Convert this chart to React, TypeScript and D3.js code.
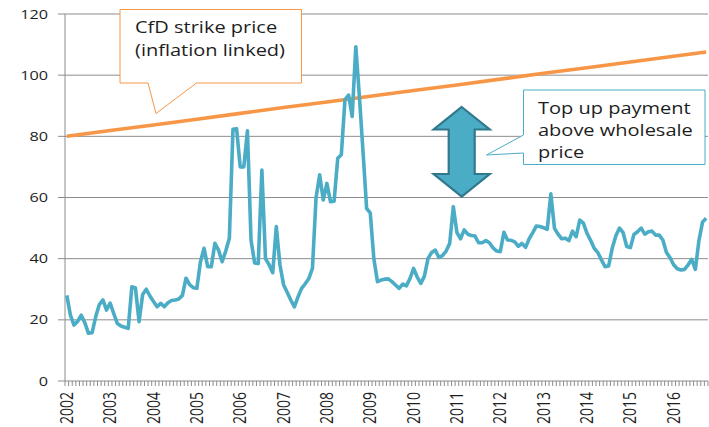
import React from "react";
import * as d3 from "d3";

// Monthly wholesale electricity price, Jan 2002 .. Oct 2016 (£/MWh)
const wholesale: number[] = [
  28.0, 21.5, 18.3, 19.5, 21.5, 19.0, 15.6, 15.8, 21.0, 25.0, 26.5, 23.2,
  25.5, 22.0, 18.8, 18.0, 17.6, 17.2, 30.8, 30.4, 19.4, 28.3, 30.0, 27.8,
  26.0, 24.3, 25.4, 24.3, 25.6, 26.3, 26.5, 26.8, 28.0, 33.6, 31.5, 30.5,
  30.3, 39.0, 43.4, 37.4, 37.4, 45.0, 42.8, 39.0, 42.5, 46.7, 82.3, 82.5,
  70.0, 70.0, 81.8, 46.0, 38.6, 38.4, 69.0, 40.0, 38.0, 35.4, 50.5, 38.0,
  31.5, 29.0, 26.5, 24.2, 27.5, 30.3, 31.8, 33.5, 36.8, 60.0, 67.4, 59.2,
  64.6, 58.6, 58.8, 72.8, 74.0, 91.9, 93.5, 86.5, 109.3, 93.0, 75.0, 56.4,
  55.0, 40.0, 32.5, 33.0, 33.3, 33.4, 32.5, 31.4, 30.3, 31.7, 31.1, 33.5,
  36.8, 34.0, 31.9, 34.3, 40.1, 42.0, 42.8, 40.4, 41.0, 42.5, 45.0, 57.0,
  48.5, 46.5, 49.4, 48.0, 47.6, 47.4, 45.2, 45.2, 45.9, 45.2, 43.5, 42.5,
  42.3, 48.6, 46.1, 46.0, 45.5, 44.0, 45.0, 43.7, 46.5, 48.5, 50.7, 50.5,
  50.1, 49.6, 61.2, 49.9, 48.0, 46.5, 46.7, 45.9, 49.0, 47.2, 52.6, 51.6,
  48.3, 46.0, 43.4, 42.0, 39.6, 37.4, 37.6, 43.5, 47.5, 50.0, 48.5, 44.0,
  43.6, 47.9, 48.8, 50.0, 48.0, 48.8, 49.0, 47.7, 47.7, 46.1, 42.0, 40.3,
  38.0, 36.7, 36.3, 36.5, 38.0, 39.8, 36.5, 46.0, 52.0, 53.2,
];

// CfD strike price (inflation linked): month index and value
const strikeMonths: number[] = [0, 12, 24, 36, 48, 60, 72, 84, 96, 108, 120, 132, 144, 156, 168, 177];
const strikeValues: number[] = [80.0, 81.9, 83.7, 85.6, 87.5, 89.4, 91.2, 93.1, 95.0, 96.8, 98.7, 100.6, 102.4, 104.3, 106.2, 107.6];

const years: string[] = [
  "2002", "2003", "2004", "2005", "2006", "2007", "2008", "2009",
  "2010", "2011", "2012", "2013", "2014", "2015", "2016",
];
const yTicks: number[] = [0, 20, 40, 60, 80, 100, 120];

const strikeLabel: string[] = ["CfD strike price", "(inflation linked)"];
const topUpLabel: string[] = ["Top up payment", "above wholesale", "price"];

const W = 709;
const H = 427;
const SX = 1.25;
const FONT = "'Open Sans', 'Noto Sans', sans-serif";
const BLUE = "#4BACC6";
const ORANGE = "#F79646";
const GRID = "#8c8c8c";
const TEXT = "#1e1e1e";

export default function App() {
  const left = 65;
  const right = 708;
  const top = 14;
  const bottom = 381;

  const idx = wholesale.map((_, i) => i);
  const x = d3.scaleBand<number>().domain(idx).range([left, right]).padding(0);
  const bw = x.bandwidth();
  const cx = (i: number) => (x(i) as number) + bw / 2;
  const y = d3.scaleLinear().domain([0, 120]).range([bottom, top]);

  const priceLine = d3
    .line<number>()
    .x((_, i) => cx(i))
    .y((d) => y(d))
    .curve(d3.curveLinear)(wholesale) as string;

  const strikeLine = d3
    .line<number>()
    .x((_, i) => cx(strikeMonths[i]))
    .y((d) => y(d))(strikeValues) as string;

  // arrow geometry
  const ax = 461.7;
  const aTop = 107;
  const aBot = 196.5;
  const headW = 28;
  const headH = 22.5;
  const shaftW = 13;
  const arrow = [
    [ax, aTop],
    [ax + headW, aTop + headH],
    [ax + shaftW, aTop + headH],
    [ax + shaftW, aBot - headH],
    [ax + headW, aBot - headH],
    [ax, aBot],
    [ax - headW, aBot - headH],
    [ax - shaftW, aBot - headH],
    [ax - shaftW, aTop + headH],
    [ax - headW, aTop + headH],
  ]
    .map((p) => p.join(","))
    .join(" ");

  const st = (tx: number, ty: number) => `translate(${tx},${ty}) scale(${SX},1)`;

  return (
    <svg
      width={W}
      height={H}
      style={{ position: "absolute", left: 0, top: 0, background: "#fff" }}
      fontFamily={FONT}
    >
      {/* gridlines */}
      {yTicks
        .filter((t) => t > 0)
        .map((t) => (
          <line key={"g" + t} x1={left} x2={right} y1={y(t)} y2={y(t)} stroke={GRID} strokeWidth={1} />
        ))}
      {/* y axis */}
      <line x1={left} x2={left} y1={top} y2={bottom} stroke={GRID} strokeWidth={1} />
      {yTicks.map((t) => (
        <g key={"y" + t}>
          <line x1={left - 7} x2={left} y1={y(t)} y2={y(t)} stroke={GRID} strokeWidth={1} />
          <text
            transform={st(48, y(t) + 4.6)}
            textAnchor="end"
            fontSize={13}
            fill={TEXT}
          >
            {t}
          </text>
        </g>
      ))}
      {/* x axis */}
      <line x1={left} x2={right} y1={bottom} y2={bottom} stroke={GRID} strokeWidth={1} />
      {idx.concat([wholesale.length]).map((i) => {
        const xx = i < wholesale.length ? (x(i) as number) : right;
        return <line key={"t" + i} x1={xx} x2={xx} y1={bottom} y2={bottom + 5} stroke={GRID} strokeWidth={1} />;
      })}
      {years.map((yr, k) => (
        <text
          key={yr}
          transform={`translate(${cx(k * 12) + 6},392) scale(${SX},1) rotate(-90)`}
          textAnchor="end"
          fontSize={14}
          fill={TEXT}
        >
          {yr}
        </text>
      ))}

      {/* series */}
      <path d={strikeLine} fill="none" stroke={ORANGE} strokeWidth={3.6} />
      <path d={priceLine} fill="none" stroke={BLUE} strokeWidth={3.6} strokeLinejoin="round" />

      {/* CfD callout */}
      <path
        d="M120,9.5 L301.5,9.5 L301.5,83 L196.5,83 L156,113.5 L148,83 L120,83 Z"
        fill="#fff"
        stroke={ORANGE}
        strokeWidth={1}
      />
      {strikeLabel.map((s, k) => (
        <text key={s} transform={st(135, 33 + k * 22.5)} fontSize={16} fill={TEXT}>
          {s}
        </text>
      ))}

      {/* double arrow */}
      <polygon points={arrow} fill={BLUE} stroke="#31788c" strokeWidth={2.2} strokeLinejoin="miter" />

      {/* top-up callout */}
      <path
        d="M523.5,90 L705,90 L705,164.5 L523.5,164.5 L523.5,153 L486.5,155 L523.5,135 Z"
        fill="#fff"
        stroke={BLUE}
        strokeWidth={1}
      />
      {topUpLabel.map((s, k) => (
        <text key={s} transform={st(538, 114 + k * 22)} fontSize={16} fill={TEXT}>
          {s}
        </text>
      ))}
    </svg>
  );
}
